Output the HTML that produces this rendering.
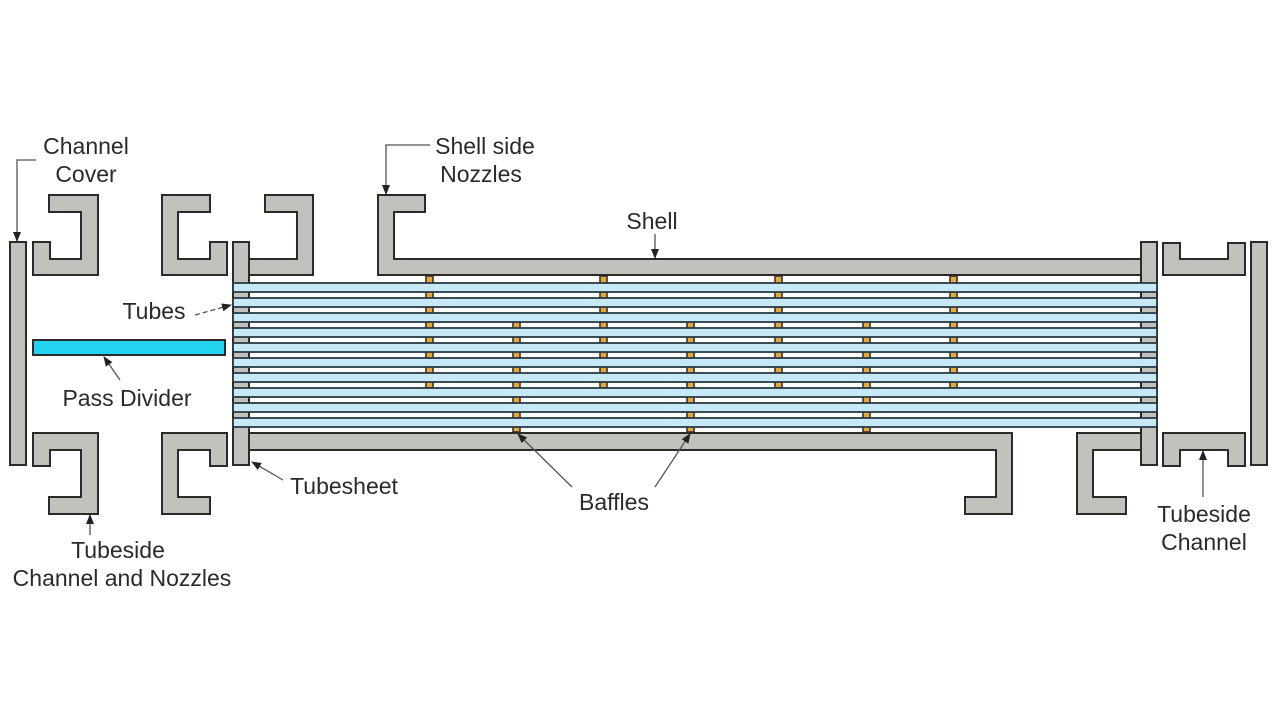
<!DOCTYPE html>
<html><head><meta charset="utf-8"><style>
html,body{margin:0;padding:0;background:#fff;}
svg{display:block;}
text{font-family:"Liberation Sans",Arial,sans-serif;font-size:23px;fill:#2a2a2a;}
</style></head><body>
<svg width="1280" height="720" viewBox="0 0 1280 720" xmlns="http://www.w3.org/2000/svg">
<defs>
<marker id="ah" markerWidth="10" markerHeight="10" refX="9" refY="5" orient="auto" markerUnits="userSpaceOnUse">
<path d="M0,1 L10,5 L0,9 z" fill="#222"/></marker>
</defs>
<g fill="#c2c1bb" stroke="#2a2a2a" stroke-width="2">
<rect x="10" y="242" width="16" height="223"/>
<rect x="233" y="242" width="16" height="223"/>
<rect x="1141" y="242" width="16" height="223"/>
<rect x="1251" y="242" width="16" height="223"/>
<polygon points="49,195 98,195 98,275 33,275 33,242 50,242 50,259 81,259 81,212 49,212"/>
<polygon points="162,195 210,195 210,212 178,212 178,259 210,259 210,242 227,242 227,275 162,275"/>
<polygon points="265,195 313,195 313,275 249,275 249,259 297,259 297,212 265,212"/>
<polygon points="378,195 425,195 425,212 394,212 394,259 1141,259 1141,275 378,275"/>
<polygon points="33,433 98,433 98,514 49,514 49,497 81,497 81,450 50,450 50,466 33,466"/>
<polygon points="162,433 227,433 227,466 210,466 210,450 178,450 178,497 210,497 210,514 162,514"/>
<polygon points="249,433 1012,433 1012,514 965,514 965,497 996,497 996,450 249,450"/>
<polygon points="1077,433 1141,433 1141,450 1093,450 1093,497 1126,497 1126,514 1077,514"/>
<polygon points="1163,243 1180,243 1180,259 1228,259 1228,243 1245,243 1245,275 1163,275"/>
<polygon points="1163,433 1245,433 1245,466 1228,466 1228,450 1180,450 1180,466 1163,466"/>
</g>
<rect x="33" y="340" width="192" height="15" fill="#22d3f0" stroke="#2a2a2a" stroke-width="2"/>
<g fill="#e8a838" stroke="#2a2a2a" stroke-width="1.5">
<rect x="426" y="276" width="7" height="112"/>
<rect x="600" y="276" width="7" height="112"/>
<rect x="775" y="276" width="7" height="112"/>
<rect x="950" y="276" width="7" height="112"/>
<rect x="513" y="322" width="7" height="110"/>
<rect x="687" y="322" width="7" height="110"/>
<rect x="863" y="322" width="7" height="110"/>
</g>
<g fill="#c6e8f7" stroke="#2a3a44" stroke-width="1.8">
<rect x="233" y="283" width="924" height="9"/>
<rect x="233" y="298" width="924" height="9"/>
<rect x="233" y="313" width="924" height="9"/>
<rect x="233" y="328" width="924" height="9"/>
<rect x="233" y="343" width="924" height="9"/>
<rect x="233" y="358" width="924" height="9"/>
<rect x="233" y="373" width="924" height="9"/>
<rect x="233" y="388" width="924" height="9"/>
<rect x="233" y="403" width="924" height="9"/>
<rect x="233" y="418" width="924" height="9"/>
</g>
<g stroke="#555" stroke-width="1.3" fill="none">
<polyline points="36,160 17,160 17,241" marker-end="url(#ah)"/>
<polyline points="430,145 386,145 386,194" marker-end="url(#ah)"/>
<line x1="655" y1="234" x2="655" y2="258" marker-end="url(#ah)"/>
<line x1="195" y1="315" x2="231" y2="305" stroke-dasharray="5,3" marker-end="url(#ah)"/>
<line x1="120" y1="380" x2="104" y2="357" marker-end="url(#ah)"/>
<line x1="283" y1="480" x2="252" y2="462" marker-end="url(#ah)"/>
<line x1="572" y1="487" x2="518" y2="434" marker-end="url(#ah)"/>
<line x1="655" y1="487" x2="690" y2="434" marker-end="url(#ah)"/>
<line x1="90" y1="535" x2="90" y2="515" marker-end="url(#ah)"/>
<line x1="1203" y1="497" x2="1203" y2="451" marker-end="url(#ah)"/>
</g>
<text x="86" y="154" text-anchor="middle">Channel</text>
<text x="86" y="182" text-anchor="middle">Cover</text>
<text x="485" y="154" text-anchor="middle">Shell side</text>
<text x="481" y="182" text-anchor="middle">Nozzles</text>
<text x="652" y="229" text-anchor="middle">Shell</text>
<text x="154" y="319" text-anchor="middle">Tubes</text>
<text x="127" y="406" text-anchor="middle">Pass Divider</text>
<text x="344" y="494" text-anchor="middle">Tubesheet</text>
<text x="614" y="510" text-anchor="middle">Baffles</text>
<text x="118" y="558" text-anchor="middle">Tubeside</text>
<text x="122" y="586" text-anchor="middle">Channel and Nozzles</text>
<text x="1204" y="522" text-anchor="middle">Tubeside</text>
<text x="1204" y="550" text-anchor="middle">Channel</text>
</svg>
</body></html>
